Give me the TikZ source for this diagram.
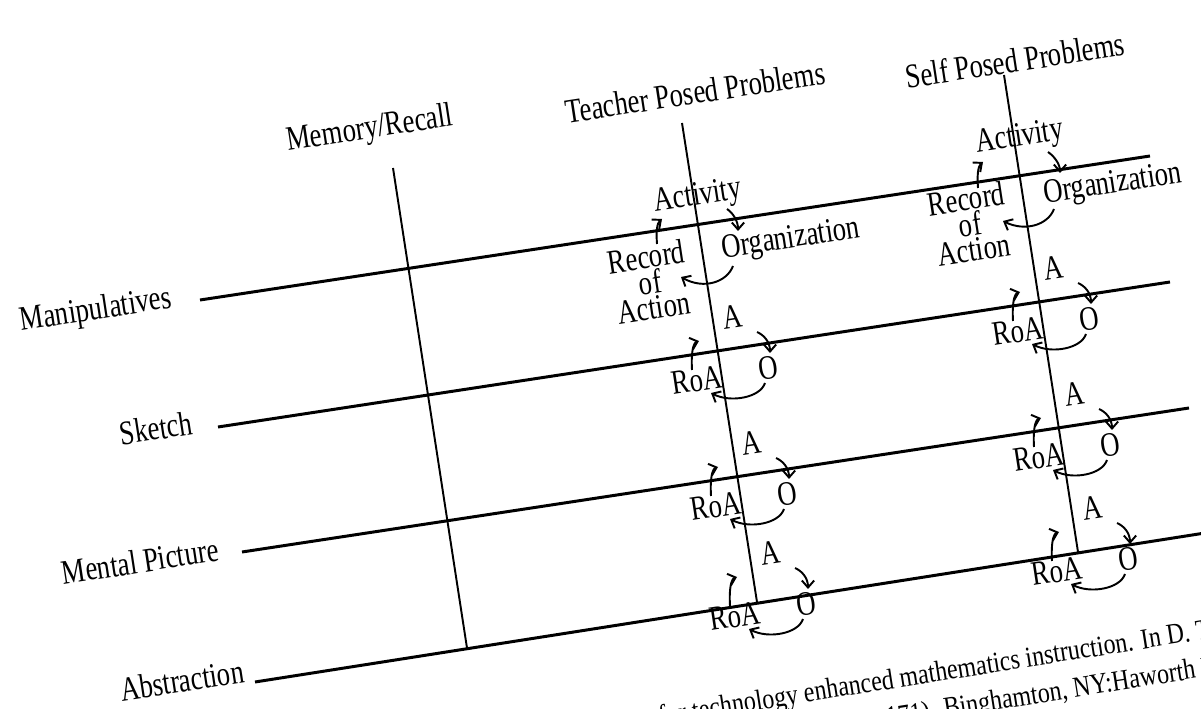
\documentclass[tikz,border=0pt]{standalone}
\usepackage{fontspec}
\setmainfont{Liberation Serif}
\usetikzlibrary{arrows.meta}
\tikzset{
  lab/.style={font=\fontsize{19.5}{19.5}\selectfont, rotate=8.7, xscale=0.78, inner sep=0pt},
  roa/.style={lab, align=center, font=\fontsize{19.5}{12}\selectfont},
  cite/.style={font=\fontsize{16.5}{16.5}\selectfont, rotate=9, xscale=0.83, inner sep=0pt},
  hline/.style={line width=1.7pt},
  vline/.style={line width=1.1pt},
  cyc/.style={line width=1.1pt, -{Straight Barb[length=4pt,width=7pt]}},
}
% small A / O / RoA cycle: #1 name, #2 x, #3 y of the crossing
\newcommand\smallcyc[3]{%
\begin{scope}[shift={(#2,#3)}]
  \node[lab] (#1A) at (14,-34) {A};
  \node[lab] (#1O) at (50,17) {O};
  \node[lab] (#1R) at (-21,29) {RoA};
  \coordinate (#1u1) at (-26,19);  \coordinate (#1u2) at (-19,-10);
  \draw[cyc] (#1u1) .. controls (-27,2) and (-25,-8) .. (#1u2);
  \coordinate (#1o1) at (39,-19);  \coordinate (#1o2) at (52,2);
  \draw[cyc] (#1o1) .. controls (46,-16) and (52,-9) .. (#1o2);
  \coordinate (#1r1) at (47,32);   \coordinate (#1r2) at (-7,42);
  \draw[cyc] (#1r1) .. controls (42,47) and (12,52) .. (#1r2);
\end{scope}}
\begin{document}
\begin{tikzpicture}[x=0.02cm,y=-0.02cm]
\useasboundingbox (0,0) rectangle (1201,709);
\clip (0,0) rectangle (1201,709);

% row labels
\node[lab] (man) at (96,311) {Manipulatives};
\node[lab] (ske) at (156,428) {Sketch};
\node[lab] (men) at (140,561) {Mental Picture};
\node[lab] (abs) at (182,680) {Abstraction};
% column labels
\node[lab] (mem) at (370,130) {Memory/Recall};
\node[lab] (tea) at (695,92) {Teacher Posed Problems};
\node[lab] (sel) at (1015,60) {Self Posed Problems};

% line ends
\coordinate (m0) at (200,300);  \coordinate (m1) at (1150,156);
\coordinate (s0) at (218,427);  \coordinate (s1) at (1170,282);
\coordinate (p0) at (242,552);  \coordinate (p1) at (1189,408);
\coordinate (a0) at (255,682);  \coordinate (a1) at (1205,533);
\coordinate (r0) at (393,168);  \coordinate (r1) at (467,648);
\coordinate (t0) at (682,123);  \coordinate (t1) at (757,602);
\coordinate (e0) at (1004,75);  \coordinate (e1) at (1078,552);

\draw[hline] (m0) -- (m1);
\draw[hline] (s0) -- (s1);
\draw[hline] (p0) -- (p1);
\draw[hline] (a0) -- (a1);
\draw[vline] (r0) -- (r1);
\draw[vline] (t0) -- (t1);
\draw[vline] (e0) -- (e1);

% big cycle, teacher posed
\node[lab] (tact) at (698,197) {Activity};
\node[lab] (torg) at (791,240) {Organization};
\node[roa] (troa) at (650,282) {Record\\of\\Action};
\coordinate (tb1) at (657,244); \coordinate (tb2) at (662,219);
\draw[cyc] (tb1) .. controls (656,231) and (657,223) .. (tb2);
\coordinate (tb3) at (727,209); \coordinate (tb4) at (738,231);
\draw[cyc] (tb3) .. controls (733,213) and (738,221) .. (tb4);
\coordinate (tb5) at (733,266); \coordinate (tb6) at (681,277);
\draw[cyc] (tb5) .. controls (727,282) and (704,290) .. (tb6);

% big cycle, self posed
\node[lab] (sact) at (1020,138) {Activity};
\node[lab] (sorg) at (1113,185) {Organization};
\node[roa] (sroa) at (970,224) {Record\\of\\Action};
\coordinate (sb1) at (978,188); \coordinate (sb2) at (983,162);
\draw[cyc] (sb1) .. controls (977,175) and (978,166) .. (sb2);
\coordinate (sb3) at (1048,152); \coordinate (sb4) at (1060,173);
\draw[cyc] (sb3) .. controls (1054,156) and (1060,164) .. (sb4);
\coordinate (sb5) at (1054,209); \coordinate (sb6) at (1003,221);
\draw[cyc] (sb5) .. controls (1048,225) and (1025,232) .. (sb6);

% small cycles
\smallcyc{ts}{718}{351}
\smallcyc{tm}{737}{477}
\smallcyc{ta}{756}{587}
\smallcyc{ss}{1039}{302}
\smallcyc{sm}{1060}{428}
\smallcyc{sa}{1078}{542}

% citation fragment
\node[cite, anchor=base east] (c1) at (1212,638) {for technology enhanced mathematics instruction. In D. T};
\node[cite, anchor=base east] (c2) at (1216,675) {171).  Binghamton, NY:Haworth P};
\end{tikzpicture}
\end{document}
